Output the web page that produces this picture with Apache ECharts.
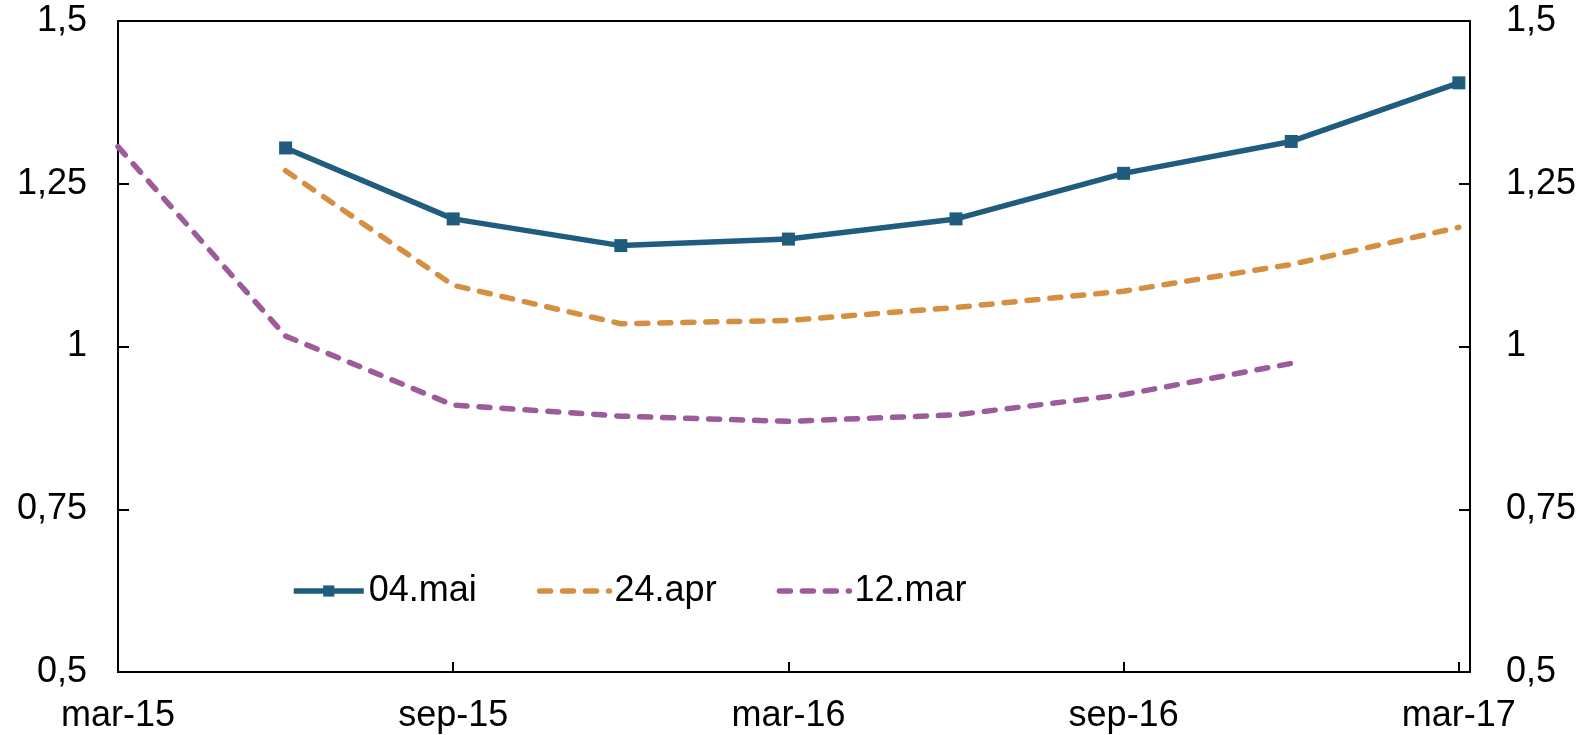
<!DOCTYPE html>
<html>
<head>
<meta charset="utf-8">
<script src="https://cdn.jsdelivr.net/npm/echarts@6/dist/echarts.min.js"></script>
<style>
html,body{margin:0;padding:0;background:#fff;}
#chart{width:1587px;height:735px;}
</style>
</head>
<body>
<div id="chart"></div>
<script>
// quarterly observation dates
const categories = ['mar-15','jun-15','sep-15','des-15','mar-16','jun-16','sep-16','des-16','mar-17'];
const tickLabels = ['mar-15','sep-15','mar-16','sep-16','mar-17'];
const seriesNames = ['04.mai','24.apr','12.mar'];
const mai04 = [null, 1.305, 1.196, 1.155, 1.165, 1.196, 1.266, 1.315, 1.405];
const apr24 = [null, 1.270, 1.094, 1.035, 1.040, 1.060, 1.085, 1.126, 1.183];
const mar12 = [1.307, 1.016, 0.910, 0.893, 0.885, 0.895, 0.926, 0.974, null];
const yTicks = [0.5, 0.75, 1, 1.25, 1.5];

const FONT = 'Liberation Sans';
const FS = 36;
const LW = 5.5;
const monthsPerCat = 3;
function toData(arr){ return arr.map((v,i)=>[i*monthsPerCat, v]); }

const chart = echarts.init(document.getElementById('chart'), null, {renderer:'canvas'});
const yFmt = v => String(+v.toFixed(2)).replace('.', ',');
const yCommon = {
  type:'value', min:yTicks[0], max:yTicks[yTicks.length-1], interval:0.25,
  axisLine:{show:true, lineStyle:{color:'#000', width:2}},
  axisTick:{show:true, inside:true, length:11, lineStyle:{color:'#000', width:2}},
  splitLine:{show:false},
  axisLabel:{fontFamily:FONT, fontSize:FS, color:'#000', formatter:yFmt}
};
const option = {
  backgroundColor:'#fff',
  animation:false,
  grid:{left:118, right:117, top:21, bottom:63, show:true, borderColor:'#000', borderWidth:2, backgroundColor:'transparent'},
  legend:{
    left:286, top:568, itemWidth:70, itemHeight:14, itemGap:60,
    textStyle:{fontFamily:FONT, fontSize:FS, color:'#000'},
    lineStyle:{width:LW},
    data:[
      {name:seriesNames[0]},
      {name:seriesNames[1], itemStyle:{opacity:0}},
      {name:seriesNames[2], itemStyle:{opacity:0}}
    ]
  },
  xAxis:{
    type:'value', min:0, max:24.2, interval:6,
    axisLine:{show:true, onZero:false, lineStyle:{color:'#000', width:2}},
    axisTick:{show:true, inside:true, length:10, lineStyle:{color:'#000', width:2}},
    splitLine:{show:false},
    axisLabel:{fontFamily:FONT, fontSize:FS, color:'#000', margin:26, showMaxLabel:false,
      formatter:v => (Math.abs(v/6 - Math.round(v/6))<1e-6 && tickLabels[Math.round(v/6)]) ? tickLabels[Math.round(v/6)] : ''}
  },
  yAxis:[
    Object.assign({}, yCommon, {position:'left', axisLabel:Object.assign({}, yCommon.axisLabel, {margin:31})}),
    Object.assign({}, yCommon, {position:'right', axisLabel:Object.assign({}, yCommon.axisLabel, {margin:36})})
  ],
  series:[
    {name:seriesNames[0], type:'line', data:toData(mai04), symbol:'rect', symbolSize:13, showSymbol:true,
     itemStyle:{color:'#1f5c7e'}, lineStyle:{color:'#1f5c7e', width:LW}, z:5},
    {name:seriesNames[1], type:'line', data:toData(apr24), symbol:'none', showSymbol:false,
     itemStyle:{color:'#d48f42'}, lineStyle:{color:'#d48f42', width:LW, type:[11,12], cap:'round'}, z:4},
    {name:seriesNames[2], type:'line', data:toData(mar12), symbol:'none', showSymbol:false,
     itemStyle:{color:'#9c5b9a'}, lineStyle:{color:'#9c5b9a', width:LW, type:[11,12], cap:'round'}, z:3}
  ]
};
chart.setOption(option);
</script>
</body>
</html>
